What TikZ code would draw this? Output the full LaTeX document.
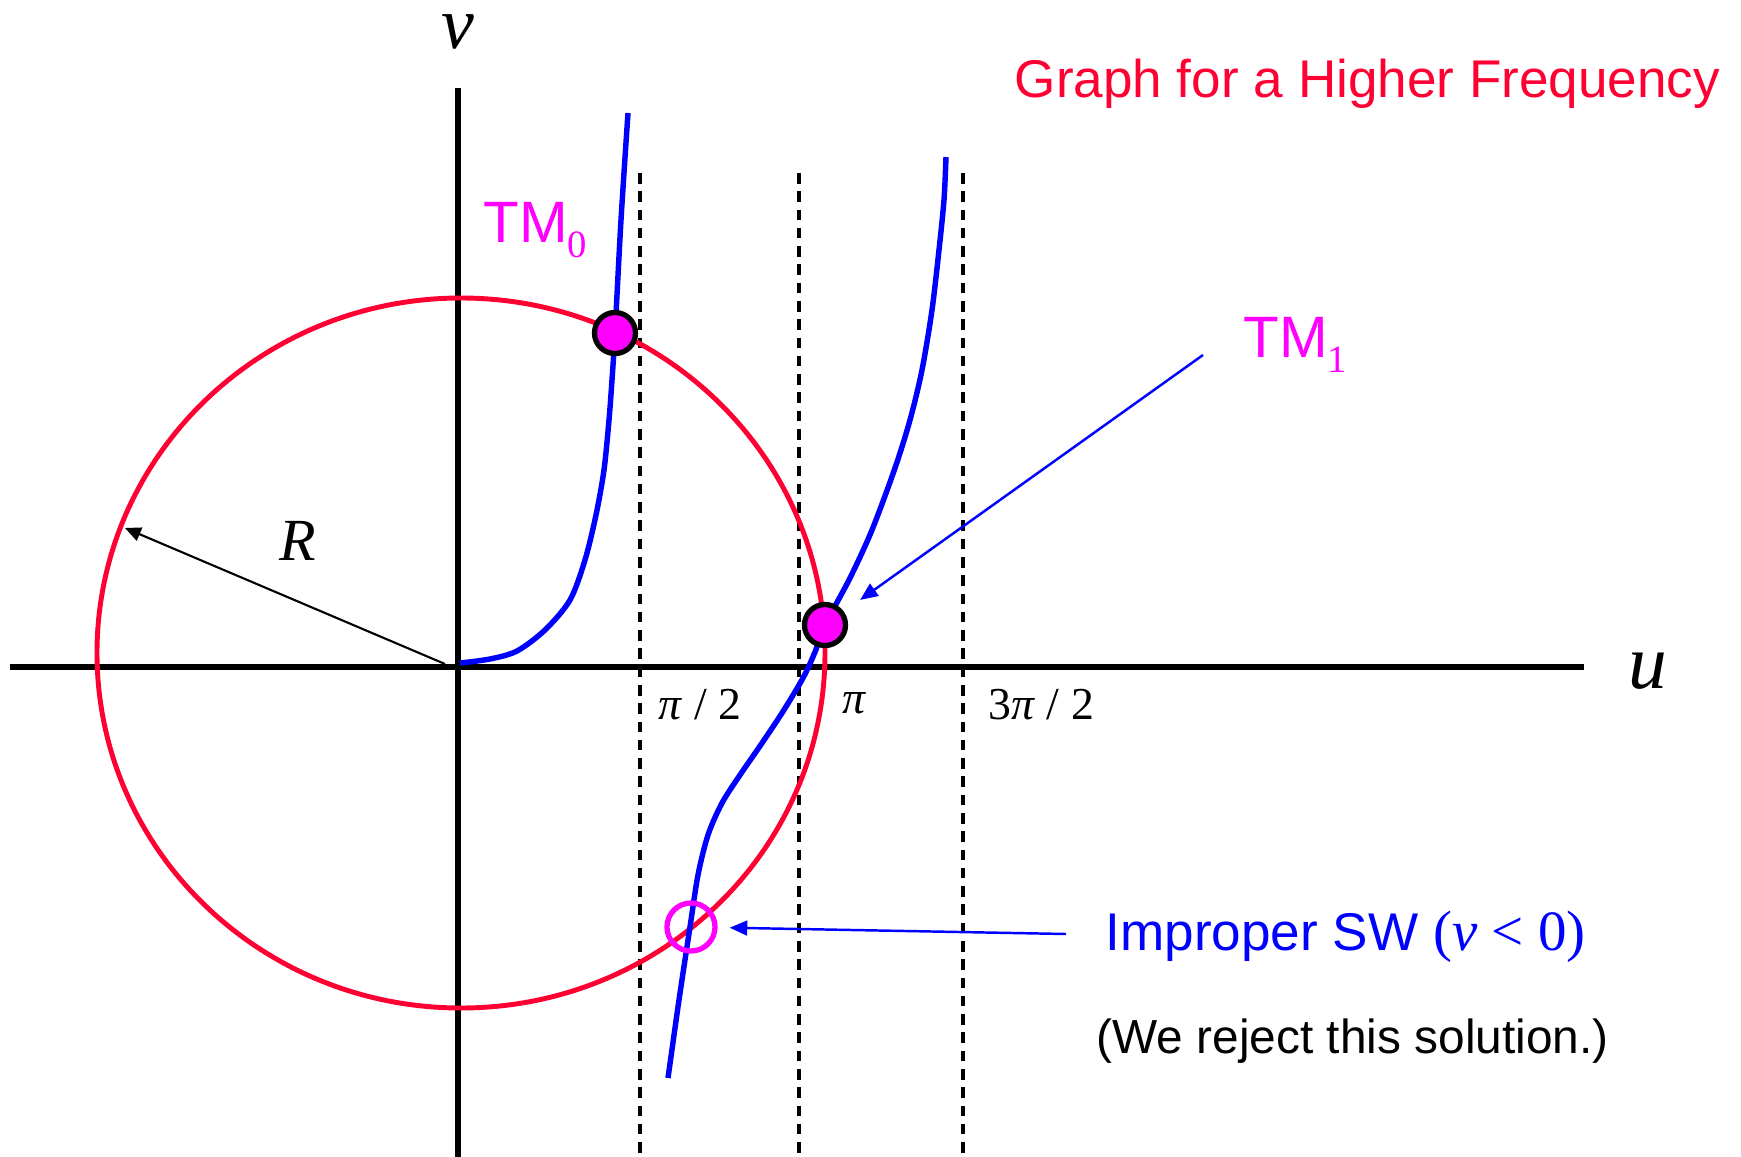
\documentclass[tikz,border=0pt]{standalone}
\usepackage{fontspec}
\setmainfont{Liberation Sans}
\newfontfamily\tnr{Liberation Serif}
\usetikzlibrary{arrows.meta,positioning,calc}
\definecolor{freqred}{HTML}{FF0033}
\definecolor{swblue}{HTML}{0000FF}
\definecolor{tmpink}{HTML}{FF00FF}
\newcommand{\modesub}[1]{\raisebox{-4.3pt}{\tnr\fontsize{11}{11}\selectfont #1}}

\begin{document}
\begin{tikzpicture}[x=0.01cm, y=-0.01cm,
  % axes thick, asymptotes thin and dashed
  axisline/.style={line width=1.7pt, draw=black},
  asymline/.style={line width=1pt, draw=black, dash pattern=on 3pt off 2.2pt},
  % circle of radius R
  radcircle/.style={line width=1.4pt, draw=freqred},
  % branches of the dispersion curve
  eigcurve/.style={line width=1.55pt, draw=swblue},
  modedot/.style={circle, draw=black, fill=tmpink, line width=1.5pt, inner sep=0pt, minimum size=0.41cm},
  rejring/.style={circle, draw=tmpink, line width=1.5pt, inner sep=0pt, minimum size=0.48cm},
  pointer/.style={line width=0.7pt, draw=swblue, -{Triangle[length=5pt,width=4.2pt]}},
  radarrow/.style={line width=0.6pt, draw=black, -{Triangle[length=4.5pt,width=4pt]}},
  lab/.style={inner sep=0pt, anchor=base west},
]
\useasboundingbox (0,0) rectangle (1741,1157);
\def\xO{458}\def\yO{667}
\coordinate (O) at (\xO,\yO);
\coordinate (C) at (461,653);

% axes
\draw[axisline] (10,\yO) -- (1584,\yO);
\draw[axisline] (\xO,88) -- (\xO,1157);
\node[font=\tnr\fontsize{21}{21}\selectfont\itshape, inner sep=0pt, anchor=base] (vlab) at (\xO,48) {v};
\node[font=\tnr\fontsize{22}{22}\selectfont\itshape, inner sep=0pt, anchor=base] (ulab) at (1648,688) {u};

% asymptotes
\foreach \xa in {640,799,963} {
  \draw[asymline] (\xa,173) -- (\xa,1157);
}
\node[lab, font=\tnr\fontsize{13}{13}\selectfont] (halfpi) at (658,719) {\textit{π} / 2};
\node[lab, font=\tnr\fontsize{13}{13}\selectfont] (onepi) at (842,713) {\textit{π}};
\node[lab, font=\tnr\fontsize{13}{13}\selectfont] (threehalfpi) at (988,719) {3\textit{π} / 2};

% circle and radius
\draw[radcircle] (C) ellipse [x radius=364, y radius=355];
\coordinate (Rfoot) at (445,664);
\coordinate (Rtip) at (125,528);
\draw[radarrow] (Rfoot) -- (Rtip);
\node[font=\tnr\fontsize{17}{17}\selectfont\itshape, inner sep=0pt, anchor=base] (Rlab) at (298,560) {R};

% TM0 branch
\draw[eigcurve] plot[smooth] coordinates {(460,663) (490,659) (517,651) (545,630) (570,600) (585,560) (596,515) (604,470) (609,420) (612,380) (615,333) (621,220) (628,113)};
% TM1 branch
\draw[eigcurve] plot[smooth] coordinates {(668,1078) (679,1000) (690,927) (698,875) (708,835) (722,803) (740,775) (760,746) (782,713) (803,678) (815,652) (825,625) (850,578) (872,530) (895,468) (910,420) (922,370) (932,310) (939,250) (944,200) (946,157)};

\node[modedot] (tm0dot) at (615,333) {};
\node[modedot] (tm1dot) at (825,625) {};
\node[rejring] (rejdot) at (691,927) {};

% labels
\node[lab, font=\fontsize{15.1}{18}\selectfont, text=freqred] (title) at (1014,97) {Graph for a Higher Frequency};
\node[lab, font=\fontsize{16.6}{20}\selectfont, text=tmpink] (tm0lab) at (483,242) {TM\modesub{0}};
\node[lab, font=\fontsize{16.6}{20}\selectfont, text=tmpink] (tm1lab) at (1243,357) {TM\modesub{1}};
\node[lab, font=\fontsize{15.1}{18}\selectfont, text=swblue] (implab) at (1105,950) {Improper SW {\tnr\fontsize{16.2}{16}\selectfont(\textit{v} < 0)}};
\node[lab, font=\fontsize{13.6}{16}\selectfont] (rejlab) at (1096,1053) {(We reject this solution.)};

% pointers
\coordinate (tm1tail) at (1203,355);
\draw[pointer, shorten >=0.2cm] (tm1tail) -- (tm1dot);
\coordinate (imptail) at (1066,934);
\draw[pointer, shorten >=0.12cm] (imptail) -- (rejdot);
\end{tikzpicture}
\end{document}
